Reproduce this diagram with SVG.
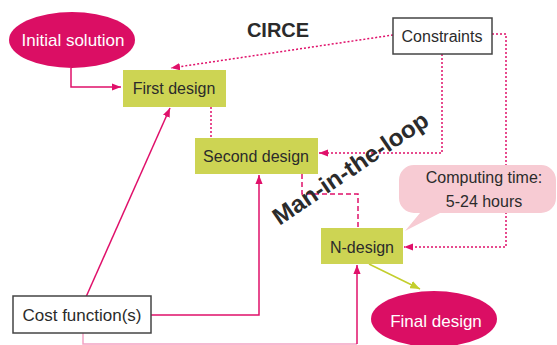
<svg xmlns="http://www.w3.org/2000/svg" width="557" height="345" viewBox="0 0 557 345">
<style>
.t{font-family:"Liberation Sans",Arial,sans-serif;font-size:16px;fill:#2b2b2b}
.w{fill:#ffffff}
.ell{fill:#db0e64}
.box{fill:#cdd453}
.wbox{fill:#ffffff;stroke:#444444;stroke-width:1.5}
.ln{fill:none;stroke:#e0106a;stroke-width:1.5}
.dot{fill:none;stroke:#e0106a;stroke-width:1.5;stroke-dasharray:2 2}
.dash{fill:none;stroke:#e0106a;stroke-width:1.5;stroke-dasharray:5 3}
.lt{fill:none;stroke:#f4a2c4;stroke-width:1.5}
.grn{fill:none;stroke:#c3ce2c;stroke-width:1.5}
</style>
<defs>
<marker id="ah" viewBox="0 0 10 8" refX="10" refY="4" markerWidth="9" markerHeight="8" markerUnits="userSpaceOnUse" orient="auto">
<path d="M0,0 L10,4 L0,8 z" fill="#e0106a"/>
</marker>
<marker id="ag" viewBox="0 0 10 8" refX="10" refY="4" markerWidth="10" markerHeight="8" markerUnits="userSpaceOnUse" orient="auto">
<path d="M0,0 L10,4 L0,8 z" fill="#c3ce2c"/>
</marker>
</defs>

<g id="connectors">
<path class="ln" d="M71,68 V87 H121" marker-end="url(#ah)"/>
<path class="dot" d="M393,35 L171,68" marker-end="url(#ah)"/>
<path class="dot" d="M211,107 V138"/>
<path class="dot" d="M442,54 V153 H319" marker-end="url(#ah)"/>
<path class="dot" d="M492,34 H506 V247 H404" marker-end="url(#ah)"/>
<path class="dash" d="M302,174 V194 H358 V228"/>
<path class="grn" d="M369,264 L420,289" marker-end="url(#ag)"/>
<path class="ln" d="M86,297 L170,108" marker-end="url(#ah)"/>
<path class="ln" d="M151,315 H259 V175" marker-end="url(#ah)"/>
<path class="lt" d="M83,333 V344 H357"/>
<path class="ln" d="M357,344 V265" marker-end="url(#ah)"/>
</g>

<text class="t" x="278" y="37" text-anchor="middle" style="font-size:20px;font-weight:bold">CIRCE</text>
<text class="t" x="355" y="175" text-anchor="middle" transform="rotate(-34 355 175)" style="font-size:24px;font-weight:bold" textLength="182" lengthAdjust="spacingAndGlyphs">Man-in-the-loop</text>

<g id="initial-solution">
<ellipse class="ell" cx="72" cy="40" rx="63" ry="28"/>
<text class="t w" x="73" y="46" text-anchor="middle" style="font-size:17px">Initial solution</text>
</g>

<g id="first-design">
<rect class="box" x="123" y="70" width="103" height="37"/>
<text class="t" x="174" y="94" text-anchor="middle">First design</text>
</g>

<g id="constraints">
<rect class="wbox" x="393" y="18" width="99" height="36"/>
<text class="t" x="442" y="42" text-anchor="middle">Constraints</text>
</g>

<g id="second-design">
<rect class="box" x="195" y="138" width="123" height="36"/>
<text class="t" x="256" y="162" text-anchor="middle">Second design</text>
</g>

<g id="computing-time">
<path d="M414,165 H541 A15,15 0 0 1 556,180 V198 A15,15 0 0 1 541,213 H440 L405,231 L420,213 H414 A15,15 0 0 1 399,198 V180 A15,15 0 0 1 414,165 Z" fill="#f7cbd3"/>
<text class="t" x="484" y="183" text-anchor="middle">Computing time:</text>
<text class="t" x="484" y="207" text-anchor="middle">5-24 hours</text>
</g>

<g id="n-design">
<rect class="box" x="321" y="228" width="82" height="36"/>
<text class="t" x="362" y="253" text-anchor="middle">N-design</text>
</g>

<g id="cost-function">
<rect class="wbox" x="13" y="296" width="138" height="37"/>
<text class="t" x="82" y="321" text-anchor="middle" style="font-size:17px">Cost function(s)</text>
</g>

<g id="final-design">
<ellipse class="ell" cx="434" cy="319" rx="63" ry="28"/>
<text class="t w" x="436" y="327" text-anchor="middle" style="font-size:17px">Final design</text>
</g>
</svg>
